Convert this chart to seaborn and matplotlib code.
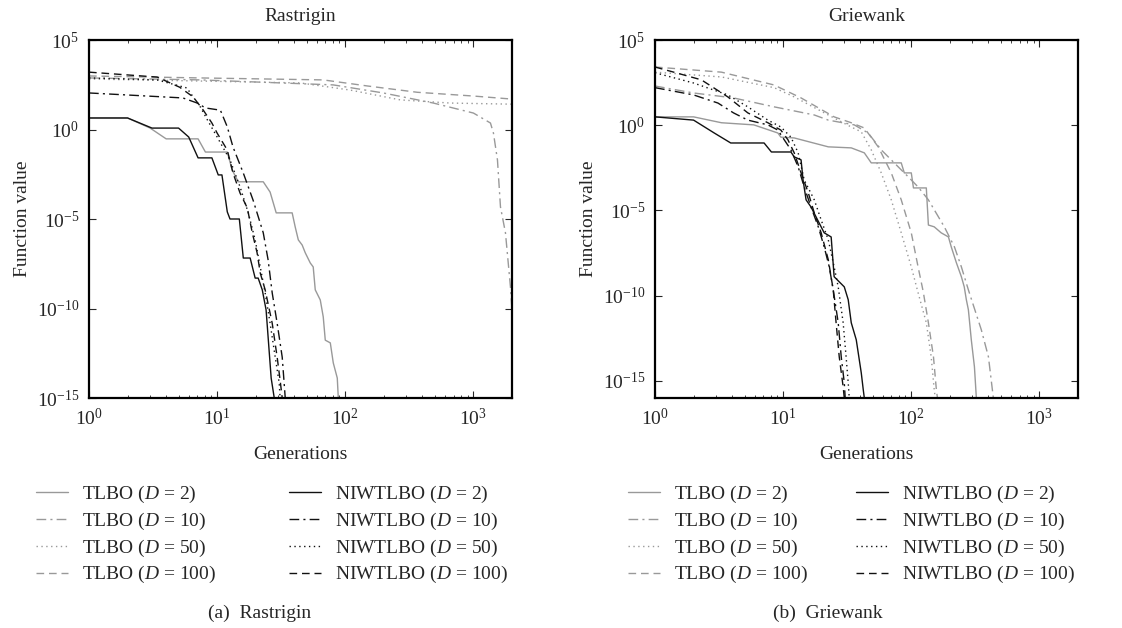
import numpy as np
import matplotlib
matplotlib.use("Agg")
import matplotlib.pyplot as plt
import seaborn as sns
from matplotlib.ticker import LogLocator, FixedLocator, NullLocator, NullFormatter

# ---- Rastrigin: generations / best function value ----
ras_tlbo_2_gen = [1, 2.0, 3.0, 4.0, 7.1, 8.1, 12.0, 13.1, 14.6, 22.9, 25.9, 28.9, 38.5, 40.7, 43.0, 46.1,
                  48.7, 53.3, 56.2, 58.3, 63.8, 67.3, 69.8, 76.4, 80.6, 86.6, 88.2]
ras_tlbo_2_val = [4.4, 4.4, 1.2, 0.30, 0.30, 0.055, 0.055, 5.5e-3, 1.2e-3, 1.2e-3, 3.2e-4, 2.2e-5, 2.2e-5,
                  3.5e-6, 6.8e-7, 3.5e-7, 1.3e-7, 3.5e-8, 2.1e-8, 1.1e-9, 3.0e-10, 3.4e-11, 1.7e-12,
                  1.2e-12, 9.1e-14, 1.3e-14, 1e-15]
ras_tlbo_10_gen = [1, 7.4, 80.6, 198, 487, 1000, 1358, 1433, 1540, 1626, 1778, 1945, 2000]
ras_tlbo_10_val = [7.6e2, 5.9e2, 3.1e2, 1.1e2, 30, 8.3, 2.3, 0.63, 0.020, 4.7e-5, 1.7e-6, 1.6e-9, 8.3e-11]
ras_tlbo_50_gen = [1, 7.4, 44.5, 109, 269, 661, 2000]
ras_tlbo_50_val = [6.6e2, 5.1e2, 4.0e2, 1.6e2, 45, 30, 26]
ras_tlbo_100_gen = [1, 7.4, 67.3, 149, 365, 1000, 2000]
ras_tlbo_100_val = [9.8e2, 7.6e2, 5.9e2, 2.7e2, 1.2e2, 74, 50]

ras_niw_2_gen = [1, 2.0, 3.1, 5.0, 6.0, 7.1, 9.1, 10.2, 10.9, 12.0, 12.6, 14.9, 16.0, 18.1, 19.8, 20.9,
                 22.5, 24.1, 26.4, 27.9]
ras_niw_2_val = [4.4, 4.4, 1.2, 1.2, 0.38, 0.026, 0.026, 2.9e-3, 2.9e-3, 2.5e-5, 1e-5, 1e-5, 6.6e-8,
                 6.6e-8, 5.0e-9, 5.0e-9, 1.1e-9, 8.3e-11, 1.3e-14, 1e-15]
ras_niw_10_gen = [1, 5.4, 7.0, 8.1, 10.6, 12.0, 13.3, 16.0, 19.1, 22.9, 25.0, 26.9, 29.4, 32.2, 34.0]
ras_niw_10_val = [1.1e2, 58, 30, 16, 12, 1.4, 0.105, 3.7e-3, 1.1e-4, 1.7e-6, 5.1e-8, 7.4e-10, 1.5e-11,
                  1.9e-13, 1e-15]
ras_niw_50_gen = [1, 3.4, 5.8, 7.4, 8.4, 10, 12.6, 15.1, 17.5, 19.8, 21.7, 23.7, 25.9, 28.4, 30.5, 31.0]
ras_niw_50_val = [7.6e2, 5.9e2, 2.1e2, 18, 3.4, 0.38, 0.020, 6.2e-4, 2.2e-5, 6.8e-7, 2.1e-8, 7.4e-10,
                  1.5e-11, 1.9e-13, 6.9e-15, 1e-15]
ras_niw_100_gen = [1, 3.4, 5.1, 6.5, 7.8, 9.1, 10, 12.0, 13.3, 15.1, 17.2, 18.8, 20.5, 21.7, 23.7, 26.9,
                   29.4, 31.0, 32.2]
ras_niw_100_val = [1.6e3, 8.5e2, 2.3e2, 66, 12, 2.3, 0.63, 0.071, 3.7e-3, 2.8e-4, 4.1e-5, 1.7e-6, 1.3e-7,
                   9.5e-9, 1.1e-9, 1.5e-11, 1.9e-13, 1.0e-14, 1e-15]

# ---- Griewank ----
grw_tlbo_2_gen = [1, 2.0, 3.3, 5.9, 9.1, 9.6, 12.2, 22.5, 34.0, 43.0, 48.7, 83.5, 88.2, 100, 104, 131, 136,
                  151, 171, 195, 205, 225, 246, 259, 269, 279, 294, 311, 322]
grw_tlbo_2_val = [3.1, 3.1, 1.4, 1.05, 0.35, 0.20, 0.18, 0.054, 0.047, 0.024, 6.2e-3, 6.2e-3, 1.6e-3,
                  1.6e-3, 2.1e-4, 2.1e-4, 1.4e-6, 1.1e-6, 4.9e-7, 2.8e-7, 7.4e-8, 8.5e-9, 1.3e-9, 3.3e-10,
                  5.8e-11, 1.5e-11, 2.6e-13, 6.8e-15, 1e-16]
grw_tlbo_10_gen = [1, 2.0, 4.1, 8.5, 17.5, 22.5, 35.9, 46.1, 58.3, 73.6, 94.8, 113, 136, 181, 217, 246,
                   279, 352, 400, 437]
grw_tlbo_10_val = [2.0e2, 78, 40, 12, 4.0, 2.0, 1.05, 0.35, 0.036, 6.2e-3, 9.3e-4, 2.4e-4, 4.2e-5, 1.1e-6,
                   7.4e-8, 4.9e-9, 2.2e-10, 1.0e-12, 2.6e-14, 1e-16]
grw_tlbo_50_gen = [1, 3.3, 8.5, 12.2, 22.5, 34.0, 40.7, 48.7, 58.3, 69.8, 83.5, 100, 113, 131, 143, 151, 154]
grw_tlbo_50_val = [1.3e3, 6.8e2, 1.6e2, 46, 4.0, 0.79, 0.41, 0.036, 1.6e-3, 4.2e-5, 4.9e-7, 4.9e-9,
                   1.5e-10, 2.6e-12, 2.6e-14, 3.0e-16, 1e-16]
grw_tlbo_100_gen = [1, 3.3, 8.5, 13.8, 25.0, 34.0, 43.0, 55.2, 69.8, 83.5, 100, 113, 124, 136, 149, 157, 160]
grw_tlbo_100_val = [2.6e3, 1.3e3, 2.3e2, 40, 3.1, 1.4, 0.69, 0.054, 1.6e-3, 4.2e-5, 4.9e-7, 4.9e-9,
                    1.7e-10, 2.6e-12, 2.6e-14, 3.0e-16, 1e-16]

grw_niw_2_gen = [1, 2.0, 2.9, 3.9, 7.1, 8.1, 11.5, 12.2, 13.8, 14.3, 15.1, 16.5, 20.9, 23.7, 25.0, 30.0,
                 32.2, 34.0, 37.2, 40.7, 42.2, 43.0]
grw_niw_2_val = [3.1, 2.0, 0.35, 0.091, 0.091, 0.027, 0.027, 0.014, 9.3e-3, 6.2e-4, 4.2e-5, 1.6e-5, 4.9e-7,
                 2.8e-7, 1.3e-9, 3.3e-10, 5.8e-11, 2.6e-12, 2.6e-13, 3.0e-15, 3.0e-16, 1e-16]
grw_niw_10_gen = [1, 2.0, 3.1, 4.1, 5.3, 7.6, 9.1, 10.2, 11.5, 13.1, 14.6, 16.5, 18.8, 20.9, 22.9, 24.6,
                  26.9, 28.4, 30.0, 30.5]
grw_niw_10_val = [1.6e2, 60, 20, 5.3, 2.0, 1.05, 0.52, 0.14, 0.036, 3.6e-3, 2.4e-4, 1.6e-5, 1.1e-6, 7.4e-8,
                  4.9e-9, 2.2e-10, 2.6e-12, 2.6e-14, 7.8e-16, 1e-16]
grw_niw_50_gen = [1, 2.0, 3.7, 5.3, 7.6, 9.6, 11.5, 13.1, 14.6, 17.5, 19.8, 22.5, 25.0, 26.9, 29.4, 31.0,
                  32.2, 32.8]
grw_niw_50_val = [1.2e3, 3.0e2, 60, 12, 2.0, 0.79, 0.20, 0.024, 6.2e-4, 4.2e-5, 2.8e-6, 1.9e-7, 4.9e-9,
                  3.3e-10, 2.6e-12, 2.6e-14, 7.8e-16, 1e-16]
grw_niw_100_gen = [1, 1.4, 2.3, 3.7, 5.3, 7.6, 9.6, 10.9, 12.2, 13.8, 15.7, 17.5, 19.8, 22.5, 24.6, 25.9,
                   27.4, 29.4, 30.0]
grw_niw_100_val = [2.6e3, 1.3e3, 4.6e2, 46, 5.3, 1.4, 0.52, 0.14, 0.024, 1.6e-3, 1.1e-4, 7.2e-6, 4.9e-7,
                   1.3e-8, 2.2e-10, 2.6e-12, 2.6e-14, 4.5e-16, 1e-16]

dims = [2, 10, 50, 100]

sns.set_style("ticks")
plt.rcParams["font.family"] = ["Liberation Serif", "DejaVu Serif"]
plt.rcParams["mathtext.fontset"] = "custom"
plt.rcParams["mathtext.rm"] = "Liberation Serif"
plt.rcParams["mathtext.it"] = "Liberation Serif:italic"
plt.rcParams["mathtext.bf"] = "Liberation Serif:bold"

GRAY = "#999999"
BLACK = "#111111"
styles = ["-", (0, (7, 3, 1.5, 3)), (0, (1, 2.5)), (0, (5.5, 3.5))]
FS = 14

fig = plt.figure(figsize=(11.22, 6.28), dpi=100)
ax_l = fig.add_axes([89 / 1122, 1 - 398 / 628, 423 / 1122, 358 / 628])
ax_r = fig.add_axes([655 / 1122, 1 - 398 / 628, 423 / 1122, 358 / 628])

panels = [
    (ax_l, "Rastrigin", "(a)  Rastrigin", (1e-15, 1e5), 36, 3.75, 260,
     [(ras_tlbo_2_gen, ras_tlbo_2_val), (ras_tlbo_10_gen, ras_tlbo_10_val),
      (ras_tlbo_50_gen, ras_tlbo_50_val), (ras_tlbo_100_gen, ras_tlbo_100_val)],
     [(ras_niw_2_gen, ras_niw_2_val), (ras_niw_10_gen, ras_niw_10_val),
      (ras_niw_50_gen, ras_niw_50_val), (ras_niw_100_gen, ras_niw_100_val)]),
    (ax_r, "Griewank", "(b)  Griewank", (1e-16, 1e5), 628, 2.45, 828,
     [(grw_tlbo_2_gen, grw_tlbo_2_val), (grw_tlbo_10_gen, grw_tlbo_10_val),
      (grw_tlbo_50_gen, grw_tlbo_50_val), (grw_tlbo_100_gen, grw_tlbo_100_val)],
     [(grw_niw_2_gen, grw_niw_2_val), (grw_niw_10_gen, grw_niw_10_val),
      (grw_niw_50_gen, grw_niw_50_val), (grw_niw_100_gen, grw_niw_100_val)]),
]

for ax, title, caption, ylim, leg_x, col_sp, cap_x, tlbo, niw in panels:
    ax.set_xscale("log")
    ax.set_yscale("log")
    handles = []
    labels = []
    for name, group, color in [("TLBO", tlbo, GRAY), ("NIWTLBO", niw, BLACK)]:
        for d, (gen, val), ls in zip(dims, group, styles):
            sns.lineplot(x=gen, y=val, ax=ax, color=color, linestyle=ls, linewidth=1.0,
                         sort=False, estimator=None, legend=False)
            handles.append(ax.get_lines()[-1])
            labels.append(name + r" ($\mathit{D}$ = " + str(d) + ")")

    ax.set_xlim(1, 2000)
    ax.set_ylim(*ylim)
    ax.xaxis.set_major_locator(LogLocator(base=10, numticks=10))
    ax.xaxis.set_minor_locator(LogLocator(base=10, subs=np.arange(2, 10), numticks=50))
    ax.xaxis.set_minor_formatter(NullFormatter())
    ax.yaxis.set_major_locator(FixedLocator([1e-15, 1e-10, 1e-5, 1e0, 1e5]))
    ax.yaxis.set_minor_locator(NullLocator())
    ax.tick_params(which="both", direction="in", top=True, right=True, labelsize=FS, pad=7)
    ax.tick_params(which="major", length=5, width=0.8)
    ax.tick_params(which="minor", length=2.5, width=0.6)
    for sp in ax.spines.values():
        sp.set_linewidth(1.6)
        sp.set_color("black")

    ax.set_title(title, fontsize=FS, pad=13.5)
    ax.set_xlabel("Generations", fontsize=FS, labelpad=12)
    ax.set_ylabel("Function value", fontsize=FS, labelpad=4)

    ax.legend(handles, labels, ncol=2, loc="upper left",
              bbox_to_anchor=(leg_x / 1122, 1 - 484 / 628), bbox_transform=fig.transFigure,
              frameon=False, fontsize=FS, handlelength=1.65, handletextpad=0.72,
              columnspacing=col_sp, labelspacing=0.29, borderpad=0, borderaxespad=0)

    fig.text(cap_x / 1122, 1 - 613 / 628, caption, ha="center", va="center", fontsize=FS)

fig.savefig("out.png", dpi=100, facecolor="white")
